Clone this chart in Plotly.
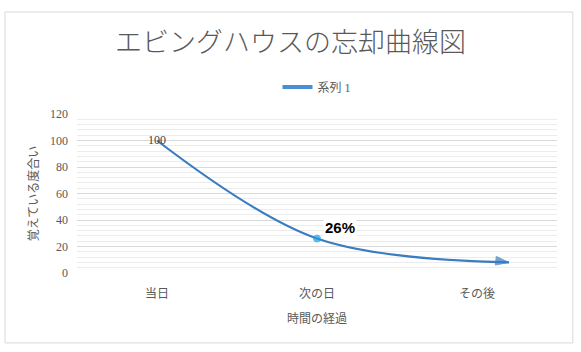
import plotly.graph_objects as go

categories = ["当日", "次の日", "その後"]
cat_pos = [0, 1, 2]
x_vals = [0, 1, 2.2]
y_vals = [100, 26, 8]
point_labels = ["100", "", ""]
highlight_text = "26%"
title = "エビングハウスの忘却曲線図"
series_name = "系列 1"
x_title = "時間の経過"
y_title = "覚えている度合い"

LINE = "#3a7cc0"
HIGHLIGHT = "#19a0e3"
JP = "Noto Sans CJK JP"
SERIF = "Liberation Serif, Noto Sans CJK JP"

fig = go.Figure()
fig.add_trace(go.Scatter(
    x=x_vals, y=y_vals, mode="lines+markers+text", name=series_name, showlegend=False,
    line=dict(color=LINE, width=2.2, shape="spline", smoothing=1.0),
    marker=dict(symbol=["circle", "circle", "arrow"], size=[7, 7, 14],
                angleref="previous", color=[LINE, HIGHLIGHT, LINE],
                line=dict(width=1, color=[LINE, HIGHLIGHT, LINE])),
    text=point_labels, textposition="middle center",
    textfont=dict(family=SERIF, size=12, color="#404040"),
))
# legend entry (line only, like the original)
fig.add_trace(go.Scatter(x=[None], y=[None], mode="lines", name=series_name,
                         line=dict(color="#4a8fd4", width=4)))

fig.add_annotation(x=x_vals[1], y=y_vals[1], text="<b>" + highlight_text + "</b>",
                   showarrow=False, xshift=23, yshift=11, bgcolor="white",
                   font=dict(family="Liberation Sans", size=15, color="black"))

fig.add_shape(type="rect", xref="paper", yref="paper", x0=-0.15, x1=1.033,
              y0=-0.44, y1=1.6415, line=dict(color="#d9d9d9", width=1), layer="below")

fig.update_layout(
    width=581, height=352, paper_bgcolor="white", plot_bgcolor="white",
    margin=dict(l=77, r=24, t=114, b=79),
    title=dict(text=title, x=0.5, xanchor="center", y=0.88, yanchor="middle",
               font=dict(family=JP, size=27, color="#595959", weight=300)),
    legend=dict(orientation="h", x=0.5, xanchor="center", y=1.17, yanchor="middle",
                font=dict(family=SERIF, size=12, color="#595959")),
    showlegend=True,
)
fig.update_xaxes(range=[-0.5, 2.5], tickvals=cat_pos, ticktext=categories,
                 showgrid=False, zeroline=False, showline=False,
                 tickfont=dict(family=SERIF, size=12, color="#595959"), ticklen=0,
                 ticklabelstandoff=12,
                 title=dict(text=x_title, font=dict(family=SERIF, size=12, color="#595959"), standoff=14))
fig.update_yaxes(range=[0, 120], dtick=20, showgrid=True, gridcolor="#d9d9d9", gridwidth=1,
                 minor=dict(dtick=4, showgrid=True, gridcolor="#ececec", gridwidth=1),
                 zeroline=False, showline=False,
                 tickfont=dict(family=SERIF, size=12, color="#595959"), ticklabelstandoff=8,
                 title=dict(text=y_title, font=dict(family=SERIF, size=12, color="#595959"), standoff=8))

fig.write_html("out.html")
